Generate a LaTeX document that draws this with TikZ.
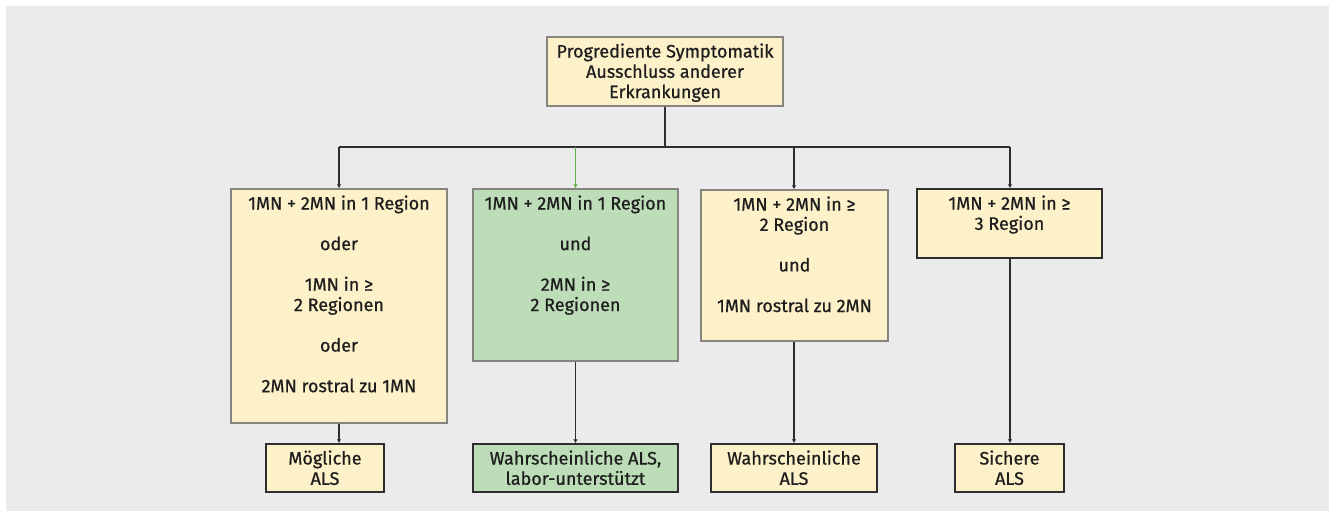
\documentclass[tikz,border=0pt]{standalone}
\usepackage{fontspec}
\setmainfont{Fira Sans}[FakeBold=0.7]
\usetikzlibrary{arrows.meta}
\definecolor{bg}{HTML}{EBEBEC}
\definecolor{yfill}{HTML}{FDF1C9}
\definecolor{gfill}{HTML}{BCDDB7}
\definecolor{lborder}{HTML}{85847F}
\definecolor{dborder}{HTML}{2E2E2E}
\definecolor{txt}{HTML}{1E1E1E}
\definecolor{gline}{HTML}{62B04E}
\newcommand{\bxt}[3]{\parbox[c][#2][t]{#1}{\centering\rule{0pt}{20.5pt}#3}}
\tikzset{
  ybox/.style={draw=lborder, fill=yfill, line width=1.3pt, inner sep=0pt, text=txt},
  ydbox/.style={draw=dborder, fill=yfill, line width=1.5pt, inner sep=0pt, text=txt},
  gbox/.style={draw=lborder, fill=gfill, line width=1.3pt, inner sep=0pt, text=txt},
  gdbox/.style={draw=dborder, fill=gfill, line width=1.5pt, inner sep=0pt, text=txt},
  conn/.style={draw=dborder, line width=1.6pt},
  arr/.style={conn, -{Latex[length=4pt,width=4.5pt]}},
  garr/.style={draw=gline, line width=1.2pt, -{Latex[length=4pt,width=4.5pt]}}
}
\begin{document}
\begin{tikzpicture}[x=1pt,y=-1pt, every node/.style={font=\fontsize{18}{20.3}\selectfont}]
\useasboundingbox (0,0) rectangle (1335,517);
\fill[white] (0,0) rectangle (1335,517);
\fill[bg] (6,6) rectangle (1329,511);

\node[ybox] (top) at (665,71.5) {\bxt{236pt}{69pt}{Progrediente Symptomatik\\Ausschluss anderer\\Erkrankungen}};

\node[ybox] (b1) at (339,306) {\bxt{216pt}{234pt}{1MN + 2MN in 1 Region\\~\\oder\\~\\1MN in ≥\\2 Regionen\\~\\oder\\~\\2MN rostral zu 1MN}};
\node[gbox] (b2) at (575.5,275) {\bxt{205pt}{172pt}{1MN + 2MN in 1 Region\\~\\und\\~\\2MN in ≥\\2 Regionen}};
\node[ybox] (b3) at (794.5,265.5) {\bxt{187pt}{151pt}{1MN + 2MN in ≥\\2 Region\\~\\und\\~\\1MN rostral zu 2MN}};
\node[ydbox] (b4) at (1009.5,223.5) {\bxt{185pt}{69pt}{1MN + 2MN in ≥\\3 Region}};

\node[ydbox] (r1) at (325,468) {\bxt{118pt}{48pt}{Mögliche\\ALS}};
\node[gdbox] (r2) at (575.5,468) {\bxt{205pt}{48pt}{Wahrscheinliche ALS,\\labor-unterstützt}};
\node[ydbox] (r3) at (794,468) {\bxt{166pt}{48pt}{Wahrscheinliche\\ALS}};
\node[ydbox] (r4) at (1009.5,468) {\bxt{109pt}{48pt}{Sichere\\ALS}};

\coordinate (j) at (665,147);
\coordinate (hL) at (339,147);
\coordinate (hR) at (1010,147);
\coordinate (h2) at (575.5,147);
\coordinate (h3) at (794,147);

\draw[conn] (top.south) -- (j);
\draw[conn] (hL) -- (hR);
\draw[arr] (hL) -- (b1.north -| hL);
\draw[garr] (h2) -- (b2.north -| h2);
\draw[arr] (h3) -- (b3.north -| h3);
\draw[arr] (hR) -- (b4.north -| hR);

\draw[arr] (b1.south -| hL) -- (r1.north -| hL);
\draw[arr] (b2.south) -- (r2.north);
\draw[arr] (b3.south -| h3) -- (r3.north -| h3);
\draw[arr] (b4.south -| hR) -- (r4.north -| hR);
\end{tikzpicture}
\end{document}
